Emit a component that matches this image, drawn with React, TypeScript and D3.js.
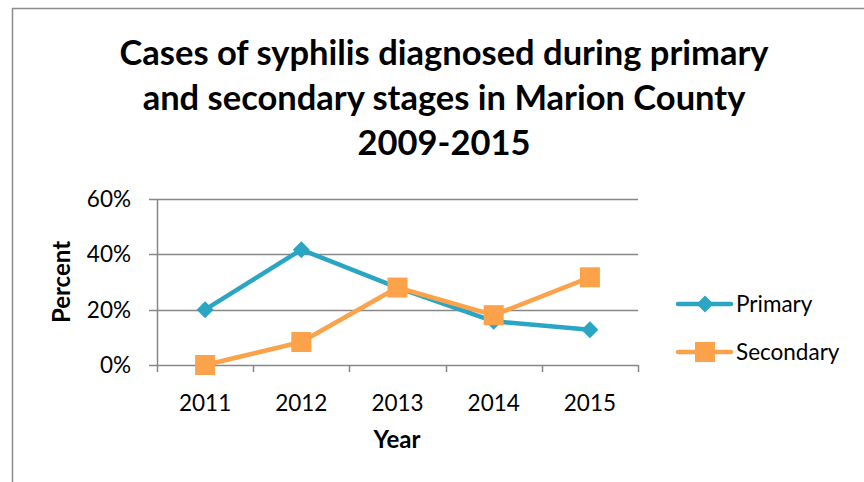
import React, { useRef, useEffect } from "react";
import * as d3 from "d3";

const years = ["2011", "2012", "2013", "2014", "2015"];
const primary = [20, 41.7, 28, 15.8, 12.7];
const secondary = [0, 8.3, 28, 18, 31.7];
const yTicks = [0, 20, 40, 60];
const titleLines = [
  "Cases of syphilis diagnosed during primary",
  "and secondary stages in Marion County",
  "2009-2015",
];

const TEAL = "#2aa6c4";
const ORANGE = "#fba24b";
const FONT = "Lato, 'Open Sans', sans-serif";

const App = () => {
  const ref = useRef<SVGSVGElement>(null);

  useEffect(() => {
    const svg = d3.select(ref.current);
    svg.selectAll("*").remove();
    svg.attr("width", 864).attr("height", 482);

    // outer frame
    svg
      .append("path")
      .attr("d", "M12.5,482 L12.5,8.5 L864,8.5")
      .attr("fill", "none")
      .attr("stroke", "#8c8c8c")
      .attr("stroke-width", 1.5);

    svg
      .append("g")
      .selectAll("text")
      .data(titleLines)
      .enter()
      .append("text")
      .attr("x", 444)
      .attr("y", (d, i) => 65 + i * 45)
      .attr("text-anchor", "middle")
      .style("font-family", FONT)
      .style("font-weight", "bold")
      .style("font-size", "34.5px")
      .text((d) => d);

    const x = d3.scaleBand().domain(years).range([157, 638]);
    const y = d3.scaleLinear().domain([0, 60]).range([365, 199]);

    const g = svg.append("g");

    g.selectAll(".grid")
      .data(yTicks)
      .enter()
      .append("line")
      .attr("x1", 149)
      .attr("x2", 638)
      .attr("y1", (d) => Math.round(y(d)) + 0.5)
      .attr("y2", (d) => Math.round(y(d)) + 0.5)
      .attr("stroke", "#878787")
      .attr("stroke-width", 1.5);

    g.append("line")
      .attr("x1", 157.5)
      .attr("x2", 157.5)
      .attr("y1", y(60))
      .attr("y2", 372)
      .attr("stroke", "#878787")
      .attr("stroke-width", 1.5);

    const xTickPos = years.map((d) => x(d) as number).concat([638]);
    g.selectAll(".xtick")
      .data(xTickPos.slice(1))
      .enter()
      .append("line")
      .attr("x1", (d) => Math.round(d) + 0.5)
      .attr("x2", (d) => Math.round(d) + 0.5)
      .attr("y1", 365)
      .attr("y2", 372)
      .attr("stroke", "#878787")
      .attr("stroke-width", 1.5);

    g.selectAll(".ylabel")
      .data(yTicks)
      .enter()
      .append("text")
      .attr("x", 131)
      .attr("y", (d) => y(d) + 8)
      .attr("text-anchor", "end")
      .style("font-family", FONT)
      .style("font-size", "22.5px")
      .text((d) => `${d}%`);

    g.selectAll(".xlabel")
      .data(years)
      .enter()
      .append("text")
      .attr("x", (d) => (x(d) as number) + x.bandwidth() / 2)
      .attr("y", 411)
      .attr("text-anchor", "middle")
      .style("font-family", FONT)
      .style("font-size", "22.5px")
      .text((d) => d);

    g.append("text")
      .attr("x", 397)
      .attr("y", 448)
      .attr("text-anchor", "middle")
      .style("font-family", FONT)
      .style("font-weight", "bold")
      .style("font-size", "24px")
      .text("Year");

    g.append("text")
      .attr("transform", "translate(70,282) rotate(-90)")
      .attr("text-anchor", "middle")
      .style("font-family", FONT)
      .style("font-weight", "bold")
      .style("font-size", "24px")
      .text("Percent");

    const cx = (i: number) => (x(years[i]) as number) + x.bandwidth() / 2;
    const line = d3
      .line<number>()
      .x((d, i) => cx(i))
      .y((d) => y(d));

    const diamond = (s: number) => `M0,${-s} L${s},0 L0,${s} L${-s},0 Z`;

    // primary
    g.append("path")
      .attr("d", line(primary))
      .attr("fill", "none")
      .attr("stroke", TEAL)
      .attr("stroke-width", 4.5)
      .attr("stroke-linejoin", "round");
    g.selectAll(".pm")
      .data(primary)
      .enter()
      .append("path")
      .attr("d", diamond(8.5))
      .attr("transform", (d, i) => `translate(${cx(i)},${y(d)})`)
      .attr("fill", TEAL);

    // secondary
    g.append("path")
      .attr("d", line(secondary))
      .attr("fill", "none")
      .attr("stroke", ORANGE)
      .attr("stroke-width", 4.5)
      .attr("stroke-linejoin", "round");
    g.selectAll(".sm")
      .data(secondary)
      .enter()
      .append("rect")
      .attr("x", (d, i) => cx(i) - 10)
      .attr("y", (d) => y(d) - 10)
      .attr("width", 20)
      .attr("height", 20)
      .attr("fill", ORANGE);

    // legend
    const legend = [
      { name: "Primary", color: TEAL, y: 304, shape: "diamond" },
      { name: "Secondary", color: ORANGE, y: 352, shape: "square" },
    ];
    legend.forEach((l) => {
      g.append("line")
        .attr("x1", 678)
        .attr("x2", 731)
        .attr("y1", l.y)
        .attr("y2", l.y)
        .attr("stroke", l.color)
        .attr("stroke-width", 4.5)
        .attr("stroke-linecap", "round");
      if (l.shape === "diamond") {
        g.append("path")
          .attr("d", diamond(8.5))
          .attr("transform", `translate(705,${l.y})`)
          .attr("fill", l.color);
      } else {
        g.append("rect")
          .attr("x", 695)
          .attr("y", l.y - 10)
          .attr("width", 20)
          .attr("height", 20)
          .attr("fill", l.color);
      }
      g.append("text")
        .attr("x", 736)
        .attr("y", l.y + 8)
        .style("font-family", FONT)
        .style("font-size", "22.5px")
        .text(l.name);
    });
  }, []);

  return (
    <div style={{ position: "absolute", left: 0, top: 0 }}>
      <svg ref={ref} style={{ display: "block" }} />
    </div>
  );
};

export default App;
